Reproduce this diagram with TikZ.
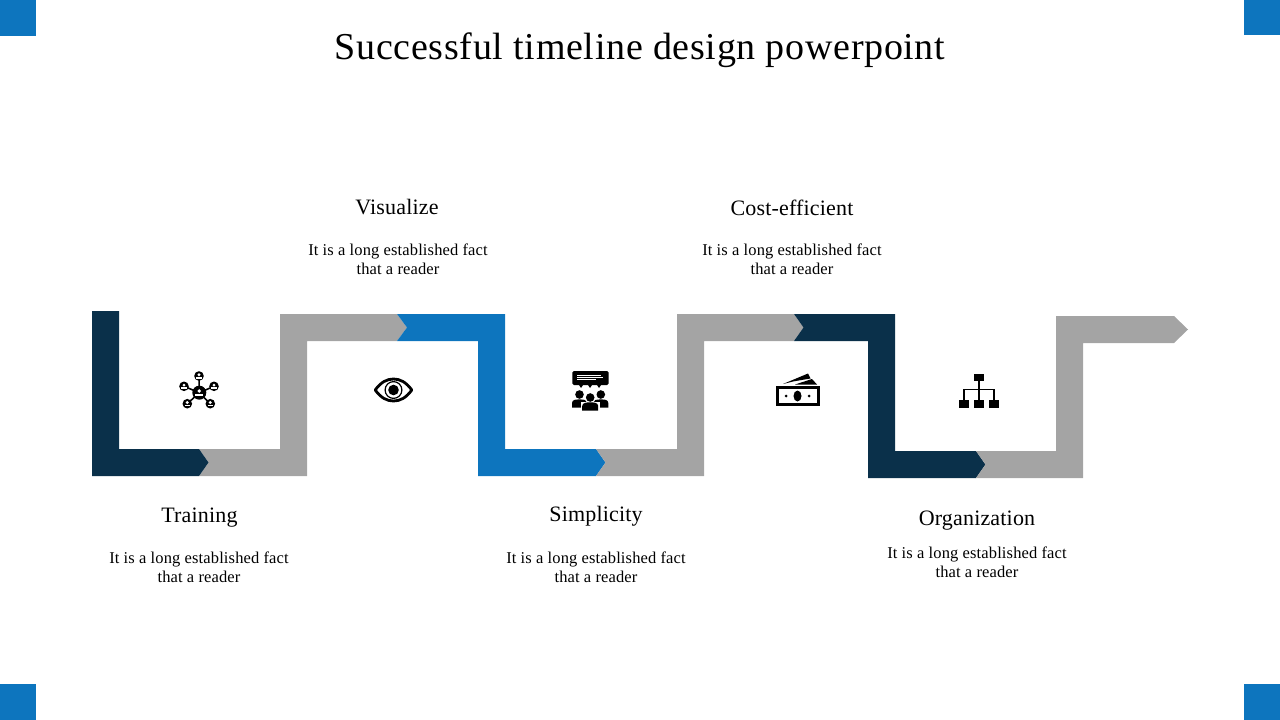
\documentclass[tikz,border=0pt]{standalone}
\usepackage{fontspec}
\setmainfont{Liberation Serif}
\newfontfamily\titlefont[LetterSpace=1.8]{Liberation Serif}
\newfontfamily\headfont[LetterSpace=0.8]{Liberation Serif}
\newfontfamily\bodyfont[LetterSpace=0.8]{Liberation Serif}
\definecolor{navy}{HTML}{0A304A}
\definecolor{bluec}{HTML}{0D75BE}
\definecolor{grayc}{HTML}{A4A4A4}
\tikzset{
  x=1pt,y=-1pt,
  corner/.style={fill=bluec,draw=none},
  band/.style={draw=none},
  title/.style={font=\titlefont\fontsize{38}{42}\selectfont,inner sep=0pt,anchor=center},
  head/.style={font=\headfont\fontsize{22}{26}\selectfont,inner sep=0pt,anchor=center},
  body/.style={font=\bodyfont\fontsize{16.5}{19}\selectfont,inner sep=0pt,anchor=center,align=center},
  ink/.style={fill=black,draw=none},
  wire/.style={draw=black,line width=1.6pt},
}
\newcommand{\satellite}[2]{%
  \fill[black] (#1,#2) circle[radius=4.8];
  \fill[white] (#1,#2-1.2) circle[radius=1.6];
  \fill[white] (#1-2.8,#2+2.6) rectangle (#1+2.8,#2+1) ;
}
\newcommand{\person}[4]{% x, head y, shoulder half width, bottom y
  \fill[black] (#1,#2) circle[radius=4.3];
  \fill[black] (#1-#3,#4) -- (#1-#3,#2+8.5) .. controls (#1-#3,#2+5) and (#1-3,#2+4.8) .. (#1,#2+4.8)
     .. controls (#1+3,#2+4.8) and (#1+#3,#2+5) .. (#1+#3,#2+8.5) -- (#1+#3,#4) -- cycle;
}
\begin{document}
\begin{tikzpicture}
\useasboundingbox (0,0) rectangle (1280,720);
% corners
\fill[corner] (0,0) rectangle (36,36);
\fill[corner] (1244,0) rectangle (1280,35);
\fill[corner] (0,684) rectangle (36,720);
\fill[corner] (1244,684) rectangle (1280,720);
% bands
\fill[band,grayc] (199,449) -- (280,449) -- (280,314) -- (397,314) -- (407,327.5) -- (397,341) -- (307,341) -- (307,476) -- (199,476) -- (208.5,462.5) -- cycle;
\fill[band,navy] (92,311) -- (119,311) -- (119,449) -- (199,449) -- (208.5,462.5) -- (199,476) -- (92,476) -- cycle;
\fill[band,bluec] (397,314) -- (505,314) -- (505,449) -- (596,449) -- (605.5,462.5) -- (596,476) -- (478,476) -- (478,341) -- (397,341) -- (407,327.5) -- cycle;
\fill[band,grayc] (596,449) -- (677,449) -- (677,314) -- (794,314) -- (803.5,327.5) -- (794,341) -- (704,341) -- (704,476) -- (596,476) -- (605.5,462.5) -- cycle;
\fill[band,navy] (794,314) -- (895,314) -- (895,451) -- (976,451) -- (985.5,464.5) -- (976,478) -- (868,478) -- (868,341) -- (794,341) -- (803.5,327.5) -- cycle;
\fill[band,grayc] (976,451) -- (1056,451) -- (1056,316) -- (1174,316) -- (1188,329.5) -- (1174,343) -- (1083,343) -- (1083,478) -- (976,478) -- (985.5,464.5) -- cycle;
% texts
\node[title] (ttl) at (640,50) {Successful timeline design powerpoint};
\node[head] (h1) at (199.5,517.5) {Training};
\node[body] (b1) at (199,567) {It is a long established fact\\that a reader};
\node[head] (h2) at (397,207.5) {Visualize};
\node[body] (b2) at (398,259.5) {It is a long established fact\\that a reader};
\node[head] (h3) at (596,516.5) {Simplicity};
\node[body] (b3) at (596,567.5) {It is a long established fact\\that a reader};
\node[head] (h4) at (792,207.5) {Cost-efficient};
\node[body] (b4) at (792,259.5) {It is a long established fact\\that a reader};
\node[head] (h5) at (977,520.5) {Organization};
\node[body] (b5) at (977,562.5) {It is a long established fact\\that a reader};
% icon: network
\foreach \a/\b in {199/376,184/386.3,214/386.3,187.3/403.7,210.3/403.7}{
  \draw[wire] (199.3,392.7) -- (\a,\b);
  \satellite{\a}{\b}
}
\fill[black] (199.3,392.7) circle[radius=7];
\fill[white] (199.3,391) circle[radius=1.9];
\fill[white] (195.4,396.2) rectangle (203.2,394);
% icon: eye
\draw[black,line width=2.8pt,line join=round,fill=white] (375.2,390) .. controls (381,382) and (387,379) .. (393.5,379) .. controls (400,379) and (406,382) .. (411.8,390) .. controls (406,398) and (400,401) .. (393.5,401) .. controls (387,401) and (381,398) .. (375.2,390) -- cycle;
\draw[black,line width=1.2pt] (393.5,390) circle[radius=8.4];
\fill[black] (393.5,390) circle[radius=5.3];
% icon: audience
\fill[black,rounded corners=1.5pt] (572.3,371) rectangle (608.5,385);
\fill[black] (579,385) -- (583,385) -- (581,388) -- cycle;
\fill[black] (588,385) -- (592,385) -- (590,388) -- cycle;
\fill[black] (597,385) -- (601,385) -- (599,388) -- cycle;
\foreach \yy/\xa/\xb in {375/577/601,377.3/577/603,379.6/577/596}{
  \draw[white,line width=0.7pt] (\xa,\yy) -- (\xb,\yy);
}
\person{579.5}{394.5}{7.5}{407.5}
\person{600.8}{394.5}{7.5}{407.5}
\fill[white] (590.2,397.5) circle[radius=5.6];
\fill[white] (580.5,410.5) rectangle (600,402);
\person{590.2}{397.5}{8}{410.5}
% icon: money
\draw[black,line width=3pt,fill=white] (777.7,387.5) rectangle (818.3,404.8);
\fill[black] (797.5,396) ellipse[x radius=4,y radius=5.5];
\fill[black] (786,396) circle[radius=1.5];
\fill[black] (809,396) circle[radius=1.5];
\fill[black] (783,384) -- (808,373.5) -- (810.5,378.5) -- (793,381.5) -- cycle;
\fill[black] (795,384.5) -- (812,379) -- (817,384.5) -- cycle;
% icon: hierarchy
\fill[ink] (974,373.5) rectangle (984,380.8);
\fill[ink] (959,399.5) rectangle (969,407.7);
\fill[ink] (974,399.5) rectangle (984,407.7);
\fill[ink] (989,399.5) rectangle (999,407.7);
\draw[wire] (979,380) -- (979,400);
\draw[wire,line join=miter] (964,400) -- (964,389.3) -- (994,389.3) -- (994,400);
\end{tikzpicture}
\end{document}
